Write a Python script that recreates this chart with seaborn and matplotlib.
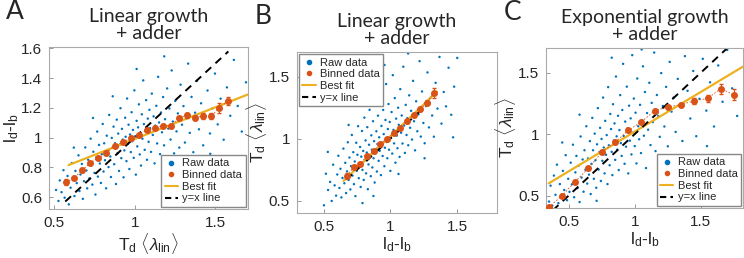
import matplotlib
matplotlib.use("Agg")
import matplotlib.pyplot as plt
import seaborn as sns
import pandas as pd
from matplotlib.lines import Line2D

sns.set_style("ticks")
plt.rcParams["font.family"] = ["Liberation Sans", "DejaVu Sans"]
plt.rcParams["mathtext.fontset"] = "custom"
plt.rcParams["mathtext.rm"] = "Liberation Sans"
plt.rcParams["mathtext.it"] = "Liberation Sans:italic"

RAW = "#0072BD"
BIN = "#D95319"
FIT = "#EDB120"

# ---- raw data ----
raw_a = [
    (0.513, 0.648), (0.528, 0.574), (0.536, 0.712), (0.547, 0.633), (0.559, 0.781), (0.566, 0.596),
    (0.571, 0.688), (0.584, 0.742), (0.592, 0.551), (0.603, 0.663), (0.611, 0.829), (0.618, 0.718),
    (0.627, 0.607), (0.633, 0.776), (0.641, 0.694), (0.652, 0.881), (0.658, 0.641), (0.664, 0.752),
    (0.673, 0.823), (0.679, 0.588), (0.686, 0.707), (0.694, 0.934), (0.701, 0.779), (0.706, 0.659),
    (0.712, 0.851), (0.719, 0.726), (0.727, 0.993), (0.731, 0.812), (0.738, 0.684), (0.744, 0.905),
    (0.751, 0.763), (0.757, 0.617), (0.763, 0.868), (0.768, 1.041), (0.772, 0.738), (0.779, 0.951),
    (0.784, 0.826), (0.791, 0.695), (0.796, 0.889), (0.802, 1.092), (0.807, 0.772), (0.811, 0.962),
    (0.816, 0.848), (0.823, 0.659), (0.827, 1.013), (0.834, 0.917), (0.838, 0.802), (0.842, 1.153),
    (0.849, 0.873), (0.853, 0.735), (0.858, 0.998), (0.864, 0.936), (0.869, 1.074), (0.873, 0.821),
    (0.878, 0.962), (0.884, 0.688), (0.889, 1.121), (0.893, 0.894), (0.898, 1.027), (0.903, 0.776),
    (0.907, 0.953), (0.912, 1.198), (0.917, 0.862), (0.921, 1.059), (0.926, 0.987), (0.931, 0.733),
    (0.936, 0.914), (0.941, 1.134), (0.944, 1.006), (0.949, 0.842), (0.953, 1.263), (0.958, 0.958),
    (0.962, 1.087), (0.967, 0.789), (0.971, 1.021), (0.976, 0.903), (0.981, 1.171), (0.985, 0.976),
    (0.989, 1.052), (0.994, 0.864), (0.998, 1.318), (1.003, 1.009), (1.007, 0.751), (1.012, 1.113),
    (1.016, 0.941), (1.021, 1.069), (1.026, 1.224), (1.031, 0.887), (1.035, 1.034), (1.039, 0.812),
    (1.044, 1.157), (1.048, 0.993), (1.053, 1.385), (1.057, 1.091), (1.062, 0.918), (1.067, 1.046),
    (1.071, 1.252), (1.076, 0.851), (1.081, 1.128), (1.086, 0.972), (1.091, 1.187), (1.095, 1.064),
    (1.101, 0.904), (1.106, 1.296), (1.112, 1.018), (1.117, 1.143), (1.123, 0.827), (1.128, 1.081),
    (1.134, 1.214), (1.139, 0.961), (1.145, 1.409), (1.151, 1.102), (1.157, 0.889), (1.163, 1.169),
    (1.169, 1.036), (1.176, 1.273), (1.182, 0.948), (1.188, 1.124), (1.195, 0.812), (1.201, 1.331),
    (1.208, 1.061), (1.215, 1.196), (1.222, 0.987), (1.229, 1.452), (1.236, 1.108), (1.244, 0.894),
    (1.251, 1.247), (1.259, 1.042), (1.267, 1.163), (1.276, 0.933), (1.284, 1.356), (1.293, 1.087),
    (1.302, 1.212), (1.311, 0.967), (1.321, 1.129), (1.331, 1.498), (1.341, 1.032), (1.352, 1.274),
    (1.363, 0.902), (1.374, 1.168), (1.386, 1.383), (1.398, 1.056), (1.411, 1.231), (1.424, 0.948),
    (1.437, 1.142), (1.451, 1.317), (1.466, 1.028), (1.481, 1.196), (1.497, 1.431), (1.514, 1.089),
    (1.532, 1.262), (1.551, 0.986), (1.571, 1.338), (1.592, 1.147), (1.614, 1.523), (1.638, 1.213),
    (1.663, 1.041), (1.689, 1.372), (0.742, 1.132), (0.864, 1.278), (1.012, 1.462), (1.183, 1.547),
    (0.623, 0.933), (1.287, 0.842), (1.468, 0.891),
]

raw_b = [
    (0.503, 0.463), (0.518, 0.718), (0.534, 0.587), (0.549, 0.652), (0.561, 0.498), (0.572, 0.791),
    (0.583, 0.624), (0.594, 0.541), (0.603, 0.712), (0.611, 0.863), (0.619, 0.603), (0.627, 0.758),
    (0.634, 0.527), (0.642, 0.684), (0.649, 0.921), (0.656, 0.641), (0.663, 0.806), (0.669, 0.562),
    (0.676, 0.737), (0.682, 0.972), (0.688, 0.668), (0.694, 0.849), (0.701, 0.591), (0.706, 0.779),
    (0.712, 1.031), (0.717, 0.703), (0.723, 0.892), (0.728, 0.634), (0.734, 0.817), (0.739, 0.537),
    (0.745, 0.968), (0.749, 0.741), (0.754, 0.871), (0.759, 1.102), (0.764, 0.682), (0.769, 0.803),
    (0.774, 0.934), (0.778, 0.611), (0.783, 0.856), (0.788, 1.063), (0.792, 0.749), (0.797, 0.902),
    (0.801, 0.668), (0.806, 1.171), (0.811, 0.828), (0.815, 0.987), (0.819, 0.721), (0.824, 0.889),
    (0.828, 1.094), (0.832, 0.593), (0.837, 0.793), (0.841, 0.952), (0.845, 1.234), (0.849, 0.857),
    (0.854, 0.698), (0.858, 1.028), (0.862, 0.912), (0.866, 0.769), (0.871, 1.142), (0.875, 0.843),
    (0.879, 0.981), (0.883, 0.647), (0.887, 1.296), (0.891, 0.884), (0.896, 1.061), (0.900, 0.736),
    (0.904, 0.958), (0.908, 1.187), (0.913, 0.822), (0.917, 1.012), (0.921, 0.903), (0.926, 1.371),
    (0.930, 0.707), (0.934, 1.104), (0.938, 0.967), (0.943, 0.861), (0.947, 1.233), (0.951, 1.038),
    (0.956, 0.779), (0.960, 0.928), (0.964, 1.152), (0.969, 1.442), (0.973, 0.994), (0.978, 0.843),
    (0.982, 1.079), (0.987, 1.281), (0.991, 0.912), (0.996, 1.136), (1.001, 0.741), (1.005, 1.018),
    (1.010, 1.216), (1.015, 0.881), (1.019, 1.514), (1.024, 1.072), (1.029, 0.963), (1.034, 1.329),
    (1.039, 0.807), (1.044, 1.163), (1.049, 1.026), (1.054, 0.924), (1.059, 1.251), (1.064, 1.113),
    (1.070, 0.854), (1.075, 1.401), (1.081, 1.049), (1.086, 1.188), (1.092, 0.962), (1.098, 1.582),
    (1.104, 1.107), (1.110, 0.886), (1.116, 1.274), (1.122, 1.031), (1.129, 1.167), (1.135, 0.948),
    (1.142, 1.351), (1.149, 1.089), (1.156, 1.226), (1.163, 0.994), (1.171, 1.468), (1.178, 1.142),
    (1.186, 0.907), (1.194, 1.303), (1.203, 1.061), (1.211, 1.197), (1.220, 1.627), (1.229, 1.018),
    (1.238, 1.382), (1.248, 1.128), (1.258, 0.964), (1.268, 1.264), (1.279, 1.536), (1.290, 1.092),
    (1.302, 1.331), (1.314, 1.188), (1.327, 1.017), (1.340, 1.452), (1.354, 1.244), (1.369, 1.661),
    (1.384, 1.123), (1.401, 1.378), (1.418, 1.262), (1.437, 1.574), (1.457, 1.194), (1.479, 1.421),
    (1.502, 1.653), (0.688, 1.112), (0.812, 1.341), (0.957, 1.596), (1.134, 1.689), (0.874, 0.538),
    (1.062, 0.716), (1.257, 0.843), (0.792, 0.481), (0.532, 0.894), (1.471, 1.012),
]

raw_c = [
    (0.352, 0.452), (0.364, 0.581), (0.377, 0.418), (0.389, 0.663), (0.401, 0.507), (0.412, 0.752),
    (0.423, 0.439), (0.434, 0.594), (0.446, 0.482), (0.457, 0.701), (0.467, 0.546), (0.478, 0.829),
    (0.488, 0.463), (0.497, 0.637), (0.507, 0.531), (0.516, 0.768), (0.525, 0.592), (0.533, 0.914),
    (0.542, 0.487), (0.551, 0.689), (0.559, 0.823), (0.567, 0.561), (0.575, 0.742), (0.583, 0.448),
    (0.591, 0.981), (0.598, 0.647), (0.606, 0.794), (0.613, 0.532), (0.620, 0.869), (0.627, 0.711),
    (0.634, 1.064), (0.641, 0.598), (0.647, 0.802), (0.654, 0.671), (0.661, 0.943), (0.667, 0.513),
    (0.673, 0.758), (0.679, 1.132), (0.685, 0.869), (0.691, 0.637), (0.697, 1.004), (0.703, 0.788),
    (0.709, 0.564), (0.715, 0.917), (0.721, 1.211), (0.727, 0.712), (0.732, 0.853), (0.738, 1.051),
    (0.744, 0.619), (0.749, 0.961), (0.755, 0.783), (0.761, 1.297), (0.766, 0.891), (0.772, 0.681),
    (0.777, 1.108), (0.783, 0.832), (0.788, 0.992), (0.794, 0.594), (0.799, 1.382), (0.804, 0.909),
    (0.810, 0.747), (0.815, 1.164), (0.821, 1.041), (0.826, 0.856), (0.831, 0.667), (0.836, 1.243),
    (0.842, 0.948), (0.847, 1.087), (0.852, 0.791), (0.858, 1.468), (0.863, 0.982), (0.868, 0.874),
    (0.874, 1.149), (0.879, 0.708), (0.884, 1.033), (0.890, 1.317), (0.895, 0.927), (0.901, 0.823),
    (0.906, 1.196), (0.912, 1.571), (0.917, 0.984), (0.923, 0.759), (0.928, 1.102), (0.934, 0.898),
    (0.940, 1.386), (0.945, 1.046), (0.951, 0.681), (0.957, 1.231), (0.963, 0.947), (0.969, 1.128),
    (0.975, 0.835), (0.981, 1.642), (0.987, 1.012), (0.993, 1.289), (1.000, 0.903), (1.006, 1.174),
    (1.013, 0.762), (1.019, 1.452), (1.026, 1.064), (1.033, 0.958), (1.040, 1.238), (1.047, 0.846),
    (1.054, 1.113), (1.062, 1.551), (1.069, 0.987), (1.077, 1.342), (1.085, 0.724), (1.093, 1.171),
    (1.101, 1.036), (1.110, 1.417), (1.119, 0.911), (1.128, 1.254), (1.137, 1.098), (1.147, 1.663),
    (1.157, 0.862), (1.167, 1.318), (1.178, 1.147), (1.189, 0.978), (1.200, 1.496), (1.212, 1.229),
    (1.224, 1.062), (1.237, 1.384), (1.250, 0.901), (1.264, 1.587), (1.278, 1.183), (1.293, 1.297),
    (1.309, 1.018), (1.325, 1.449), (1.342, 1.241), (1.360, 0.944), (1.379, 1.634), (1.399, 1.352),
    (1.420, 1.127), (1.442, 1.513), (1.465, 0.983), (1.489, 1.287), (1.514, 1.612), (1.541, 1.191),
    (1.569, 1.421), (1.599, 1.062), (1.631, 1.558), (1.664, 1.263), (1.699, 1.684), (1.736, 1.372),
    (1.774, 1.148), (0.452, 0.932), (0.583, 1.158), (0.826, 1.621), (1.052, 1.688), (1.318, 0.812),
    (1.546, 0.903), (0.712, 0.458),
]

# ---- binned data ----
bin_a_x = [0.575, 0.625, 0.675, 0.725, 0.775, 0.825, 0.875, 0.925, 0.975, 1.025, 1.075,
           1.125, 1.175, 1.225, 1.275, 1.325, 1.375, 1.425, 1.475, 1.525, 1.575]
bin_a_y = [0.70, 0.73, 0.78, 0.83, 0.865, 0.895, 0.945, 0.97, 0.995, 1.02, 1.05,
           1.065, 1.08, 1.08, 1.135, 1.15, 1.135, 1.145, 1.145, 1.20, 1.245]
bin_a_err = [0.02, 0.015, 0.012, 0.01, 0.01, 0.01, 0.01, 0.008, 0.008, 0.008, 0.008,
             0.01, 0.01, 0.012, 0.012, 0.015, 0.015, 0.018, 0.022, 0.032, 0.027]

bin_b_x = [0.675, 0.725, 0.775, 0.825, 0.875, 0.925, 0.975, 1.025, 1.075,
           1.125, 1.175, 1.225, 1.275, 1.325]
bin_b_y = [0.70, 0.77, 0.80, 0.86, 0.90, 0.96, 1.00, 1.05, 1.09, 1.14, 1.19, 1.24, 1.29, 1.37]
bin_b_err = [0.02, 0.015, 0.012, 0.01, 0.01, 0.008, 0.008, 0.008, 0.01, 0.01, 0.012, 0.015, 0.02, 0.04]

bin_c_x = [0.35, 0.45, 0.55, 0.65, 0.75, 0.85, 0.95, 1.05, 1.15, 1.25, 1.35, 1.45, 1.55, 1.65, 1.75]
bin_c_y = [0.405, 0.50, 0.614, 0.722, 0.851, 0.932, 1.03, 1.10, 1.19, 1.22, 1.24, 1.27, 1.29, 1.37, 1.32]
bin_c_err = [0.015, 0.015, 0.012, 0.01, 0.01, 0.01, 0.01, 0.01, 0.012, 0.012, 0.015, 0.025, 0.025, 0.04, 0.045]

# ---- fit lines and y=x lines (endpoints) ----
fit_a_x, fit_a_y = [0.59, 1.70], [0.815, 1.29]
fit_b_x, fit_b_y = [0.65, 1.35], [0.66, 1.38]
fit_c_x, fit_c_y = [0.35, 1.82], [0.60, 1.55]
idl_a = [0.57, 1.58]
idl_b = [0.67, 1.30]
idl_c = [0.38, 1.72]

TD = r"T$_\mathrm{d}$ $\langle\lambda_\mathrm{lin}\rangle$"
LD = r"l$_\mathrm{d}$-l$_\mathrm{b}$"

panels = [
    dict(letter="A", title="Linear growth\n+ adder", raw=raw_a, bx=bin_a_x, by=bin_a_y, be=bin_a_err,
         fx=fit_a_x, fy=fit_a_y, idl=idl_a, xlim=(0.47, 1.70), ylim=(0.52, 1.61),
         yticks=[0.6, 0.8, 1, 1.2, 1.4, 1.6], xlab=TD, ylab=LD, loc="lower right",
         rect=[0.066, 0.19, 0.267, 0.628]),
    dict(letter="B", title="Linear growth\n+ adder", raw=raw_b, bx=bin_b_x, by=bin_b_y, be=bin_b_err,
         fx=fit_b_x, fy=fit_b_y, idl=idl_b, xlim=(0.30, 1.80), ylim=(0.40, 1.70),
         yticks=[0.5, 1, 1.5], xlab=LD, ylab=TD, loc="upper left",
         rect=[0.399, 0.174, 0.269, 0.624]),
    dict(letter="C", title="Exponential growth\n+ adder", raw=raw_c, bx=bin_c_x, by=bin_c_y, be=bin_c_err,
         fx=fit_c_x, fy=fit_c_y, idl=idl_c, xlim=(0.33, 1.82), ylim=(0.40, 1.70),
         yticks=[0.5, 1, 1.5], xlab=LD, ylab=TD, loc="lower right",
         rect=[0.734, 0.194, 0.265, 0.62]),
]

fig = plt.figure(figsize=(7.44, 2.58), dpi=100)

for p in panels:
    ax = fig.add_axes(p["rect"])
    df = pd.DataFrame(p["raw"], columns=["x", "y"])
    sns.scatterplot(data=df, x="x", y="y", s=3, color=RAW, edgecolor="none", linewidth=0, ax=ax)
    sns.lineplot(x=p["fx"], y=p["fy"], color=FIT, linewidth=1.6, ax=ax)
    sns.lineplot(x=p["idl"], y=p["idl"], color="black", linewidth=1.4, ax=ax).lines[-1].set_dashes([4, 3])
    ax.errorbar(p["bx"], p["by"], yerr=p["be"], fmt="o", color=BIN, markersize=4,
                elinewidth=0.8, capsize=1.5, ls=(0, (2, 2)), lw=0.6, zorder=5)

    ax.set_xlim(*p["xlim"])
    ax.set_ylim(*p["ylim"])
    ax.set_xticks([0.5, 1, 1.5])
    ax.set_xticklabels(["0.5", "1", "1.5"])
    ax.set_yticks(p["yticks"])
    ax.set_yticklabels([f"{t:g}" for t in p["yticks"]])
    ax.tick_params(direction="in", length=3, width=0.6, color="#888888", labelsize=11, pad=5)
    for s in ax.spines.values():
        s.set_color("#aaaaaa")
        s.set_linewidth(0.8)
    ax.set_xlabel(p["xlab"], fontsize=12.5, labelpad=1)
    ax.set_ylabel(p["ylab"], fontsize=12.5, labelpad=0)

    ax.set_title(p["title"], fontsize=14, family=["Lato", "DejaVu Sans"], pad=6, linespacing=1.0)
    ax.text(-0.17, 1.22, p["letter"], transform=ax.transAxes, fontsize=19,
            family=["Lato", "DejaVu Sans"], ha="center", va="center")

    handles = [
        Line2D([], [], ls="none", marker="o", markersize=3, color=RAW),
        Line2D([], [], ls="none", marker="o", markersize=3, color=BIN),
        Line2D([], [], color=FIT, lw=1.5),
        Line2D([], [], color="black", lw=1.5, dashes=[3, 2]),
    ]
    ax.legend(handles, ["Raw data", "Binned data", "Best fit", "y=x line"], loc=p["loc"],
              fontsize=8, frameon=True, fancybox=False, edgecolor="#888888", framealpha=1,
              handlelength=1.2, handletextpad=0.4, borderpad=0.3, labelspacing=0.15,
              borderaxespad=0.2)

fig.savefig("out.png", dpi=100)
